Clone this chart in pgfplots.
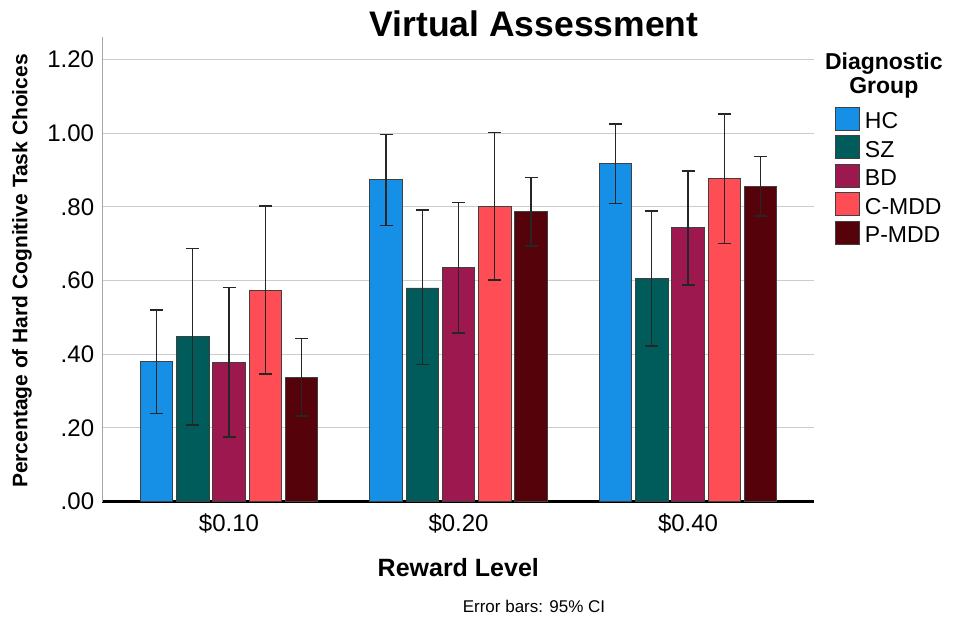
\documentclass[border=0pt]{standalone}
\usepackage{pgfplots}
\pgfplotsset{compat=1.18}
\usepackage{fontspec}
\setmainfont{Liberation Sans}
\definecolor{cHC}{RGB}{21,144,230}
\definecolor{cSZ}{RGB}{0,92,90}
\definecolor{cBD}{RGB}{158,24,80}
\definecolor{cCM}{RGB}{255,77,85}
\definecolor{cPM}{RGB}{86,2,10}
\begin{document}
\begin{tikzpicture}
\useasboundingbox (-102.3pt,-118.3pt) rectangle (855.7pt,501.7pt);
\begin{axis}[
  scale only axis,
  width=712pt, height=464.4pt,
  xmin=-0.552, xmax=2.550,
  ymin=0, ymax=1.26,
  axis x line*=bottom, axis y line*=left,
  x axis line style={-, black, line width=2.6pt},
  y axis line style={-, black!35, line width=1.4pt},
  xtick={0,1,2}, xticklabels={\$0.10,\$0.20,\$0.40},
  ytick={0,0.2,0.4,0.6,0.8,1.0,1.2},
  yticklabels={.00,.20,.40,.60,.80,1.00,1.20},
  major tick length=0pt,
  tick style={draw=none},
  ymajorgrids, grid style={black!20, line width=1pt},
  xticklabel style={font=\fontsize{24}{28}\selectfont, anchor=base, yshift=-30pt},
  yticklabel style={font=\fontsize{24}{28}\selectfont, anchor=east, inner sep=0pt, xshift=-8pt},
  ybar, bar width=0.1416, bar shift=0pt,
  every axis plot/.append style={draw=black!75, line width=0.8pt},
  error bars/y dir=both, error bars/y explicit,
  error bars/error bar style={black!85, line width=1.4pt},
  error bars/error mark options={black!85, rotate=90, mark size=6.5pt, line width=1.4pt},
  legend style={at={(1.0293,0.8506)}, anchor=north west, draw=none, fill=none,
    inner sep=0pt, outer sep=0pt,
    font=\fontsize{23}{26}\selectfont, row sep=3pt, column sep=3pt,
    cells={anchor=base west, inner sep=0pt}},
  legend image code/.code={\draw[#1, draw=black!75, line width=0.8pt] (0pt,-1.7pt) rectangle (24pt,21.6pt);},
]
\addplot[fill=cHC] table[x=x, y=y, y error plus=ep, y error minus=em] {
x y ep em
-0.316 0.380 0.140 0.140
0.684 0.874 0.123 0.124
1.684 0.918 0.107 0.109
};
\addlegendentry{HC}
\addplot[fill=cSZ] table[x=x, y=y, y error plus=ep, y error minus=em] {
x y ep em
-0.158 0.448 0.239 0.240
0.842 0.580 0.211 0.207
1.842 0.606 0.183 0.184
};
\addlegendentry{SZ}
\addplot[fill=cBD] table[x=x, y=y, y error plus=ep, y error minus=em] {
x y ep em
0 0.378 0.203 0.202
1 0.635 0.177 0.177
2 0.743 0.154 0.155
};
\addlegendentry{BD}
\addplot[fill=cCM] table[x=x, y=y, y error plus=ep, y error minus=em] {
x y ep em
0.158 0.573 0.229 0.227
1.158 0.800 0.201 0.199
2.158 0.876 0.176 0.175
};
\addlegendentry{C-MDD}
\addplot[fill=cPM] table[x=x, y=y, y error plus=ep, y error minus=em] {
x y ep em
0.316 0.338 0.105 0.106
1.316 0.787 0.093 0.093
2.316 0.855 0.082 0.080
};
\addlegendentry{P-MDD}
\end{axis}
\node[anchor=base, font=\fontsize{35.5}{40}\selectfont\bfseries] at (431.7pt,464.7pt) {Virtual Assessment};
\node[anchor=base, font=\fontsize{25}{30}\selectfont\bfseries] at (356pt,-75.3pt) {Reward Level};
\node[anchor=base, rotate=90, font=\fontsize{21}{25}\selectfont\bfseries] at (-74.8pt,230.7pt) {Percentage of Hard Cognitive Task Choices};
\node[anchor=base, font=\fontsize{17}{20}\selectfont] at (431.7pt,-111.3pt) {Error bars: 95\% CI};
\node[anchor=base, font=\fontsize{23}{26}\selectfont\bfseries] at (781.5pt,431.7pt) {Diagnostic};
\node[anchor=base, font=\fontsize{23}{26}\selectfont\bfseries] at (781.5pt,408.4pt) {Group};
\end{tikzpicture}
\end{document}
